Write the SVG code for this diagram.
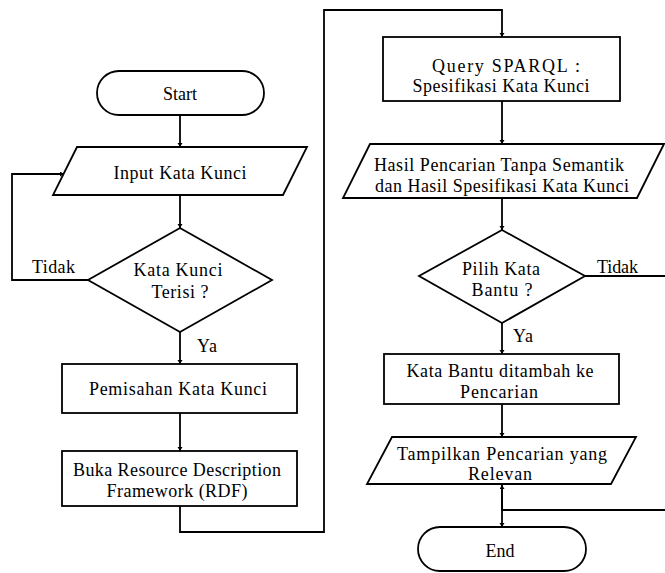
<svg xmlns="http://www.w3.org/2000/svg" width="665" height="573" viewBox="0 0 665 573">
<style>
.s{fill:#fff;stroke:#000;stroke-width:1.8}
.c{fill:none;stroke:#000;stroke-width:1.8}
text{font-family:'Liberation Serif','Times New Roman','DejaVu Serif',serif;font-size:18px;fill:#000}
.m{text-anchor:middle}
</style>
<defs>
<marker id="a" markerUnits="userSpaceOnUse" markerWidth="8" markerHeight="8" refX="4" refY="2.5" orient="auto">
<path d="M0,0 L4,2.5 L0,5 z" fill="#000"/>
</marker>
</defs>
<rect width="665" height="573" fill="#fff"/>
<g id="connectors" font-family="Liberation Serif, serif">
<path class="c" d="M180,115 V147" marker-end="url(#a)"/>
<path class="c" d="M180,195 V228" marker-end="url(#a)"/>
<path class="c" d="M88,280 H12 V174 H64" marker-end="url(#a)"/>
<path class="c" d="M180,332 V364" marker-end="url(#a)"/>
<path class="c" d="M180,413 V451" marker-end="url(#a)"/>
<path class="c" d="M180,506 V532 H324 V10 H502 V37" marker-end="url(#a)"/>
<path class="c" d="M502,101 V144" marker-end="url(#a)"/>
<path class="c" d="M502,198 V230" marker-end="url(#a)"/>
<path class="c" d="M502,323 V354" marker-end="url(#a)"/>
<path class="c" d="M502,404 V437" marker-end="url(#a)"/>
<path class="c" d="M502,484 V527" marker-end="url(#a)"/>
<path class="c" d="M585,276 H668 V510 H502 V485" marker-end="url(#a)"/>
<text x="32" y="273" textLength="43" lengthAdjust="spacing">Tidak</text>
<text x="197" y="352" textLength="20" lengthAdjust="spacing">Ya</text>
<text x="597" y="273" textLength="41" lengthAdjust="spacing">Tidak</text>
<text x="513" y="342" textLength="20" lengthAdjust="spacing">Ya</text>
</g>
<g id="start">
<rect class="s" x="97" y="71" width="167" height="44" rx="22"/>
<text class="m" x="180" y="100">Start</text>
</g>
<g id="input">
<polygon class="s" points="77,147 307,147 283,195 53,195"/>
<text class="m" x="180" y="179" textLength="133" lengthAdjust="spacing">Input Kata Kunci</text>
</g>
<g id="decision1">
<polygon class="s" points="180,228 272,280 180,332 88,280"/>
<text class="m" x="178" y="276" textLength="89" lengthAdjust="spacing">Kata Kunci</text>
<text class="m" x="180" y="298" textLength="57" lengthAdjust="spacing">Terisi ?</text>
</g>
<g id="pemisahan">
<rect class="s" x="62" y="364" width="235" height="49"/>
<text class="m" x="178" y="395" textLength="178" lengthAdjust="spacing">Pemisahan Kata Kunci</text>
</g>
<g id="buka">
<rect class="s" x="62" y="451" width="235" height="55"/>
<text class="m" x="177" y="476" textLength="208" lengthAdjust="spacing">Buka Resource Description</text>
<text class="m" x="177" y="497" textLength="141" lengthAdjust="spacing">Framework (RDF)</text>
</g>
<g id="query">
<rect class="s" x="383" y="37" width="237" height="64"/>
<text class="m" x="506" y="72" textLength="148" lengthAdjust="spacing">Query SPARQL :</text>
<text class="m" x="501" y="92" textLength="177" lengthAdjust="spacing">Spesifikasi Kata Kunci</text>
</g>
<g id="hasil">
<polygon class="s" points="370,144 664,144 637,198 343,198"/>
<text class="m" x="499" y="171" textLength="250" lengthAdjust="spacing">Hasil Pencarian Tanpa Semantik</text>
<text class="m" x="502" y="192" textLength="254" lengthAdjust="spacing">dan Hasil Spesifikasi Kata Kunci</text>
</g>
<g id="decision2">
<polygon class="s" points="502,230 585,276 502,323 419,276"/>
<text class="m" x="501" y="275" textLength="78" lengthAdjust="spacing">Pilih Kata</text>
<text class="m" x="502" y="296" textLength="61" lengthAdjust="spacing">Bantu ?</text>
</g>
<g id="katabantu">
<rect class="s" x="384" y="354" width="235" height="50"/>
<text class="m" x="500" y="377" textLength="187" lengthAdjust="spacing">Kata Bantu ditambah ke</text>
<text class="m" x="499" y="398" textLength="78" lengthAdjust="spacing">Pencarian</text>
</g>
<g id="tampilkan">
<polygon class="s" points="392,437 636,437 611,484 367,484"/>
<text class="m" x="502" y="460" textLength="210" lengthAdjust="spacing">Tampilkan Pencarian yang</text>
<text class="m" x="500" y="480" textLength="64" lengthAdjust="spacing">Relevan</text>
</g>
<g id="end">
<rect class="s" x="418" y="527" width="168" height="44" rx="22"/>
<text class="m" x="500" y="557">End</text>
</g>
</svg>
